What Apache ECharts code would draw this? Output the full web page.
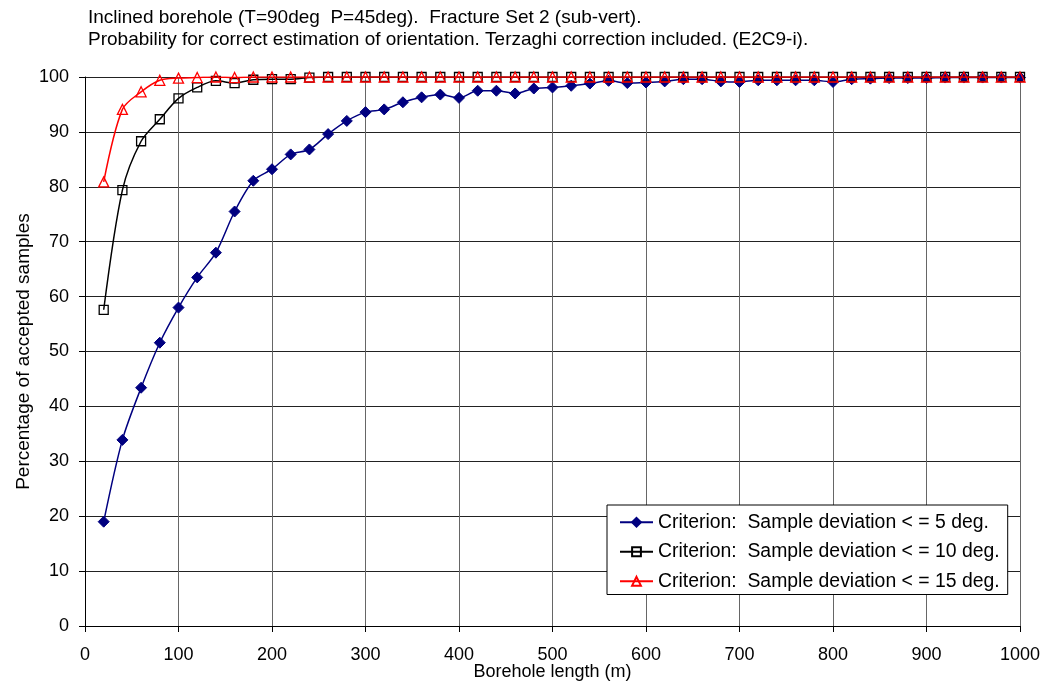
<!DOCTYPE html>
<html>
<head>
<meta charset="utf-8">
<script src="https://cdn.jsdelivr.net/npm/echarts@6/dist/echarts.min.js"></script>
<style>
  html, body { margin: 0; padding: 0; background: #fff; }
  #chart { width: 1041px; height: 684px; }
</style>
</head>
<body>
<div id="chart"></div>
<script>
// Borehole lengths (m)
const lengths = [20,40,60,80,100,120,140,160,180,200,220,240,260,280,300,320,340,360,380,400,
  420,440,460,480,500,520,540,560,580,600,620,640,660,680,700,720,740,760,780,800,
  820,840,860,880,900,920,940,960,980,1000];

// Percentage of accepted samples, deviation <= 5 deg
const dev5 = [19.0,33.9,43.4,51.6,58.0,63.5,68.0,75.5,81.1,83.2,85.9,86.8,89.6,92.0,93.6,94.1,95.4,96.3,96.8,96.2,
  97.5,97.5,97.0,97.9,98.1,98.4,98.8,99.3,98.9,99.0,99.2,99.6,99.6,99.2,99.1,99.4,99.4,99.4,99.4,99.1,
  99.6,99.7,99.8,99.8,99.8,99.9,99.9,99.9,99.9,99.9];

// Percentage of accepted samples, deviation <= 10 deg
const dev10 = [57.6,79.4,88.3,92.3,96.1,98.1,99.3,98.9,99.5,99.6,99.6,99.9,100,100,100,100,100,100,100,100,
  100,100,100,100,100,100,100,100,100,100,100,100,100,100,100,100,100,100,100,100,
  100,100,100,100,100,100,100,100,100,100];

// Percentage of accepted samples, deviation <= 15 deg
const dev15 = [80.9,94.1,97.3,99.4,99.8,99.9,100,99.9,100,100,100,100,100,100,100,100,100,100,100,100,
  100,100,100,100,100,100,100,100,100,100,100,100,100,100,100,100,100,100,100,100,
  100,100,100,100,100,100,100,100,100,100];

const titleLines = [
  'Inclined borehole (T=90deg  P=45deg).  Fracture Set 2 (sub-vert).',
  'Probability for correct estimation of orientation. Terzaghi correction included. (E2C9-i).'
];
const seriesNames = [
  'Criterion:  Sample deviation < = 5 deg.',
  'Criterion:  Sample deviation < = 10 deg.',
  'Criterion:  Sample deviation < = 15 deg.'
];

const pair = (ys) => lengths.map((x, i) => [x, ys[i]]);
const font = '"Liberation Sans", Arial, sans-serif';

const chart = echarts.init(document.getElementById('chart'), null, { renderer: 'canvas' });
chart.setOption({
  backgroundColor: '#ffffff',
  animation: false,
  textStyle: { fontFamily: font, color: '#000' },
  title: {
    text: titleLines.join('\n'),
    left: 88, top: 7, padding: 0,
    textStyle: { fontFamily: font, fontSize: 19, fontWeight: 'normal', color: '#000', lineHeight: 22 }
  },
  grid: { left: 85, right: 21, top: 77, bottom: 58, containLabel: false, outerBoundsMode: 'none' },
  legend: {
    orient: 'vertical',
    left: 607, top: 505,
    padding: [7, 8, 3, 12],
    backgroundColor: '#fff',
    borderColor: '#000',
    borderWidth: 1,
    itemGap: 9,
    itemWidth: 33,
    itemHeight: 11,
    textStyle: { fontFamily: font, fontSize: 19.4, color: '#000', lineHeight: 20.5, padding: [0, 0, 0, 0] },
    data: seriesNames
  },
  xAxis: {
    type: 'value',
    min: 0, max: 1000, interval: 100,
    name: 'Borehole length (m)',
    nameLocation: 'middle',
    nameGap: 37,
    nameMoveOverlap: false,
    nameTextStyle: { fontFamily: font, fontSize: 18, color: '#000' },
    axisLine: { show: true, lineStyle: { color: '#000', width: 1 } },
    axisTick: { show: true, inside: false, length: 6, lineStyle: { color: '#000' } },
    axisLabel: { fontFamily: font, fontSize: 18, color: '#000', margin: 20, formatter: (v) => String(v) },
    splitLine: { show: true, lineStyle: { color: '#666', width: 1 } }
  },
  yAxis: {
    type: 'value',
    min: 0, max: 100, interval: 10,
    name: 'Percentage of accepted samples',
    nameLocation: 'middle',
    nameGap: 52,
    nameMoveOverlap: false,
    nameTextStyle: { fontFamily: font, fontSize: 19, color: '#000' },
    axisLine: { show: true, lineStyle: { color: '#000', width: 1 } },
    axisTick: { show: true, inside: false, length: 6, lineStyle: { color: '#000' } },
    axisLabel: { fontFamily: font, fontSize: 18, color: '#000', margin: 16 },
    splitLine: { show: true, lineStyle: { color: '#222', width: 1 } }
  },
  series: [
    {
      name: seriesNames[0], type: 'line', data: pair(dev5), smooth: 0.3,
      symbol: 'diamond', symbolSize: 11,
      lineStyle: { color: '#000080', width: 1.5 },
      itemStyle: { color: '#000080', borderColor: '#000080', borderWidth: 1 },
      z: 2
    },
    {
      name: seriesNames[1], type: 'line', data: pair(dev10), smooth: 0.3,
      symbol: 'rect', symbolSize: 9,
      showAllSymbol: true,
      lineStyle: { color: '#000', width: 1.5 },
      itemStyle: { color: 'rgba(255,255,255,0)', borderColor: '#000', borderWidth: 1.3 },
      z: 3
    },
    {
      name: seriesNames[2], type: 'line', data: pair(dev15), smooth: 0.3,
      symbol: 'triangle', symbolSize: 10,
      showAllSymbol: true,
      lineStyle: { color: '#ff0000', width: 1.5 },
      itemStyle: { color: 'rgba(255,255,255,0)', borderColor: '#ff0000', borderWidth: 1.3 },
      z: 4
    }
  ]
});
</script>
</body>
</html>
